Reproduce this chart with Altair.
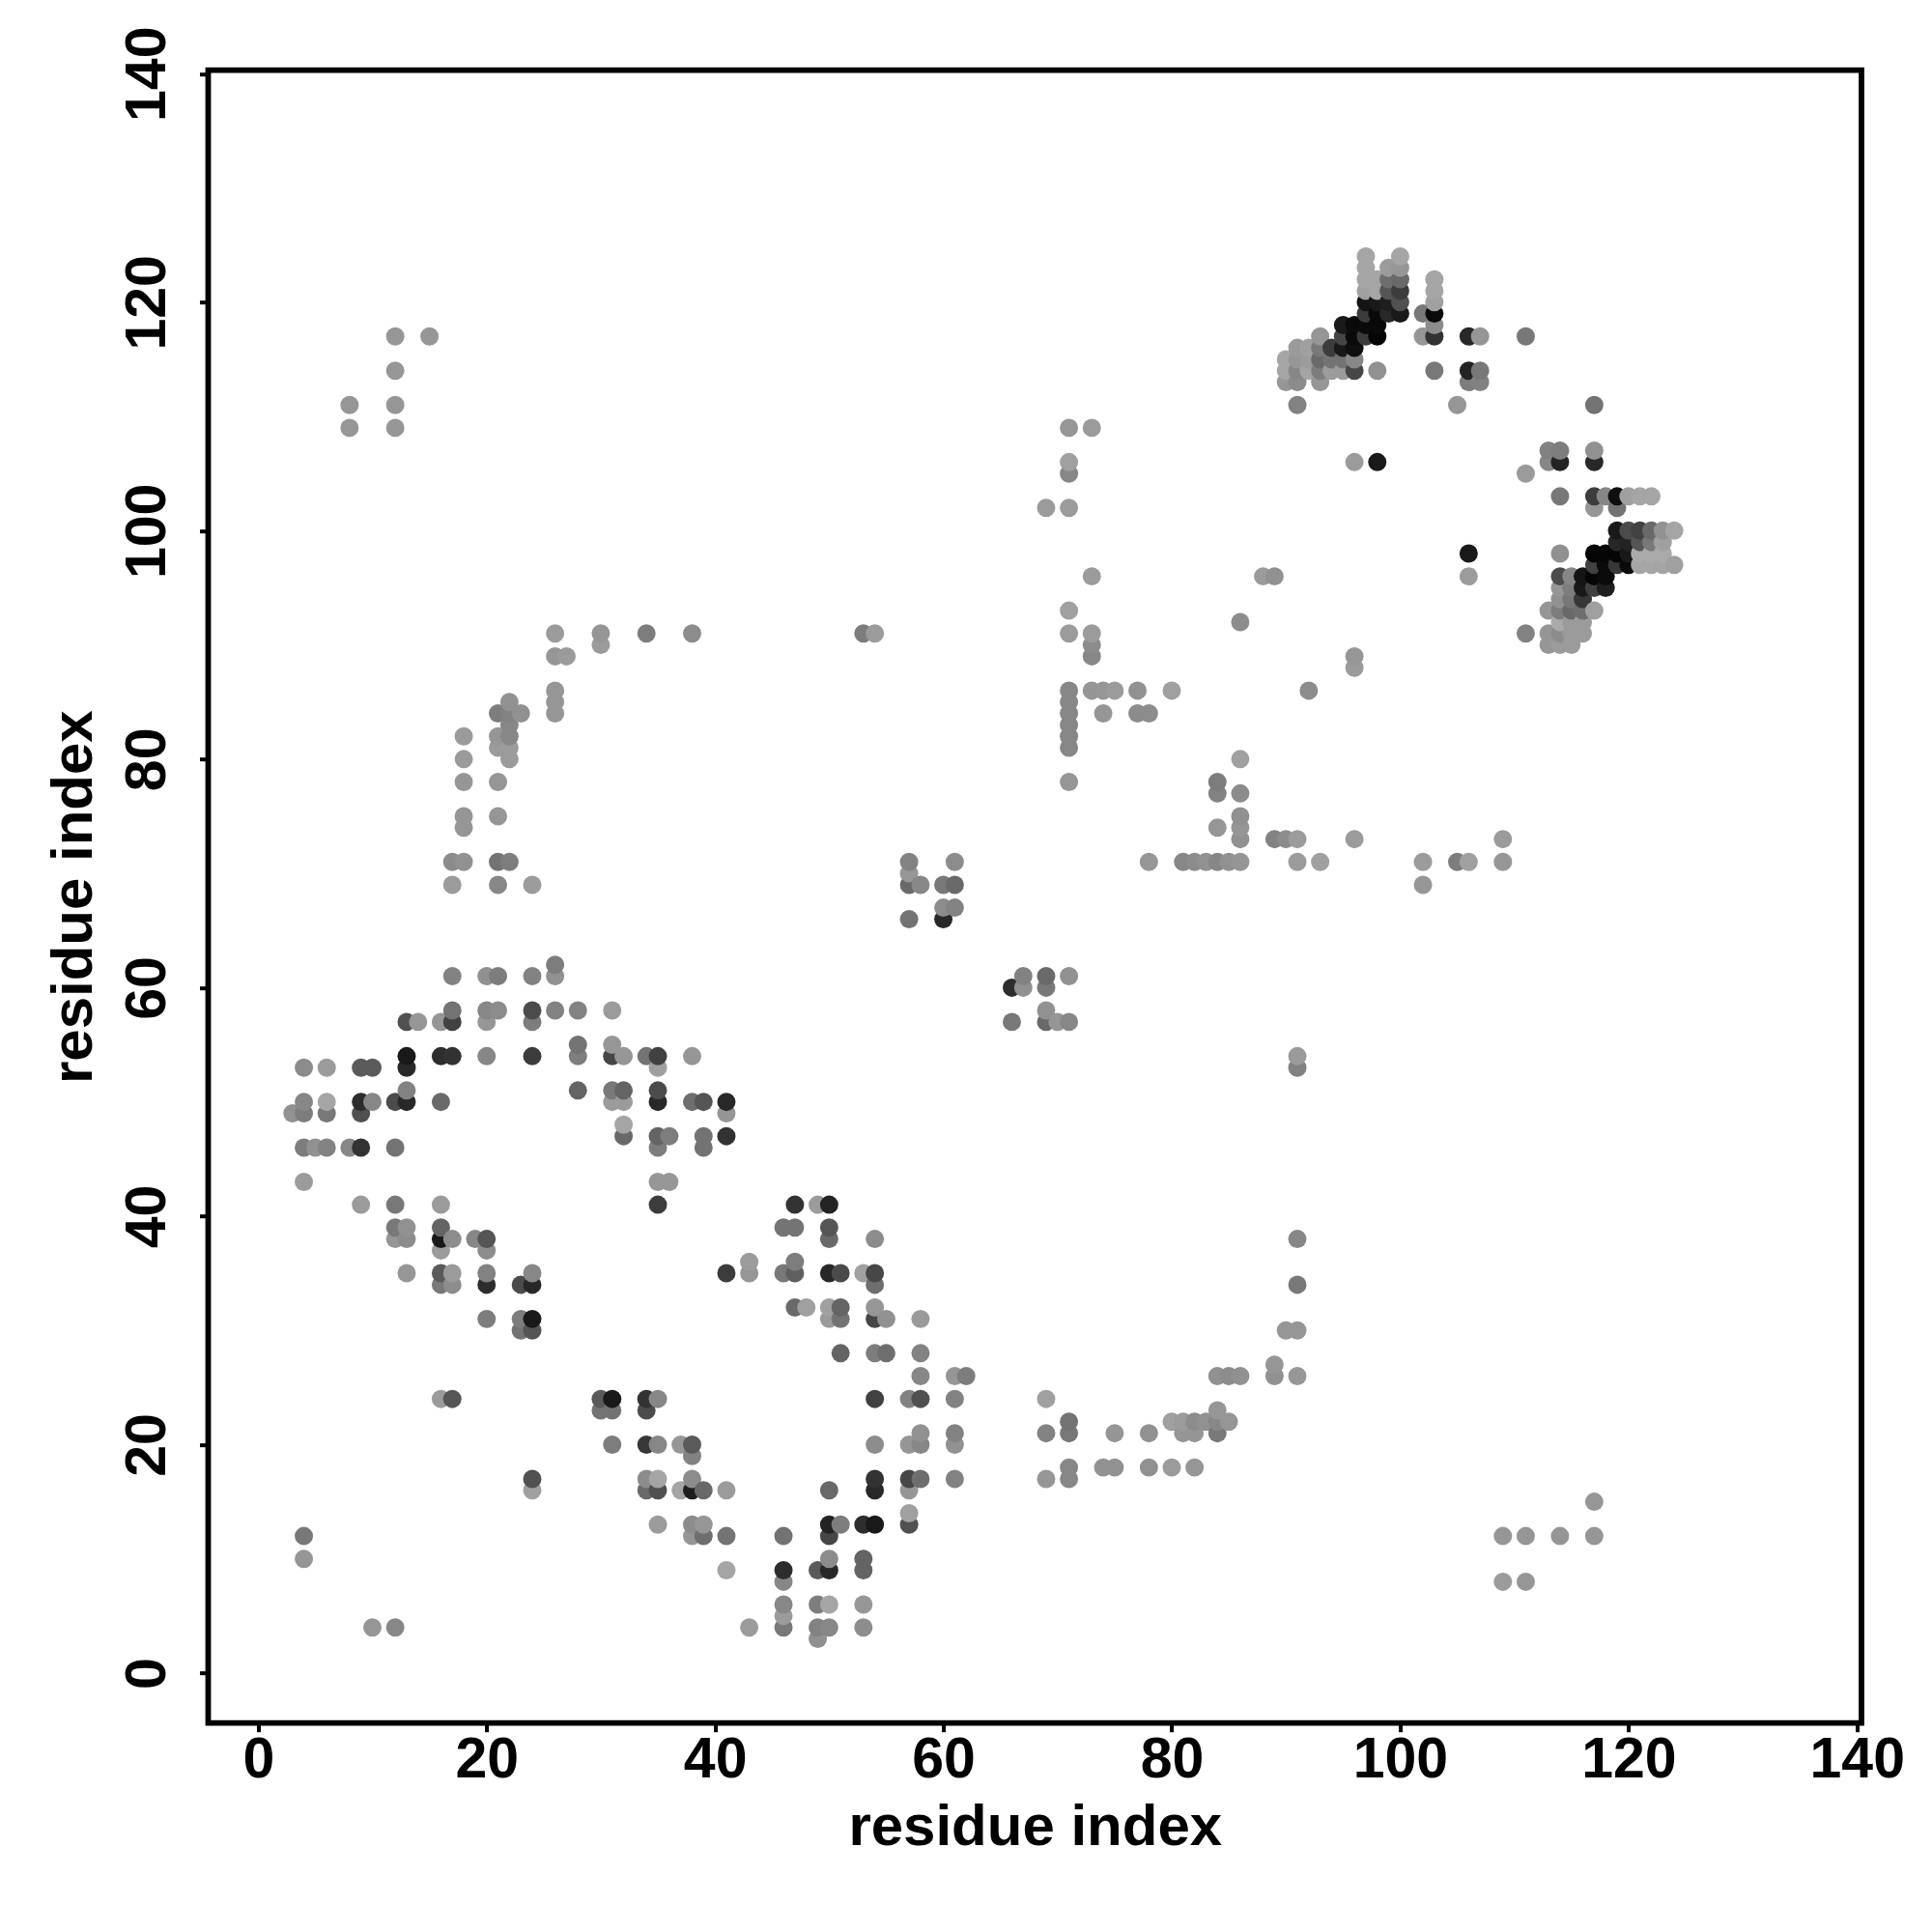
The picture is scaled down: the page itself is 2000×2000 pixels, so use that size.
import altair as alt
import pandas as pd

row_y = [124,123,122,121,120,119,118,117,116,115,114,113,111,109,107,106,105,103,102,100,
         99,98,97,96,95,94,93,92,91,90,89,88,86,85,84,83,82,81,80,78,
         77,75,74,73,71,70,69,67,66,62,61,60,58,57,55,54,53,51,50,49,
         48,47,46,43,41,39,38,37,36,35,34,32,31,30,28,27,26,24,23,22,
         21,20,19,18,17,16,15,14,13,12,10,9,8,6,5,4,3]

row_x = [
 [97,100],
 [97,99,100],
 [97,98,99,100,103],
 [97,98,99,100,103],
 [97,98,99,100,103],
 [97,98,99,100,102,103],
 [95,96,97,98,103],
 [12,15,93,95,96,97,98,102,103,106,107,111],
 [91,92,93,94,95,96],
 [90,91,92,93,94,95,96],
 [12,90,91,92,93,94,95,96,98,103,106,107],
 [90,91,93,106,107],
 [8,12,91,105,117],
 [8,12,71,73],
 [113,114,117],
 [71,96,98,113,114,117],
 [71,111],
 [114,117,118,119,120,121,122],
 [69,71,117,119],
 [119,120,121,122,123,124],
 [119,120,121,122,123],
 [106,114,117,118,119,120,121,122,123],
 [117,118,119,120,121,122,123,124],
 [73,88,89,106,114,115,116,117,118],
 [114,115,116,117,118],
 [114,115,116],
 [71,113,114,115,116,117],
 [86,114,115,116],
 [26,30,34,38,53,54,71,73,111,113,114,115,116],
 [30,73,113,114,115],
 [26,27,73,96],
 [96],
 [26,71,73,74,75,77,80,92],
 [22,26,71],
 [21,22,23,26,71,74,77,78],
 [22,71],
 [18,21,22,71],
 [21,22,71],
 [18,22,86],
 [18,21,71,84],
 [84,86],
 [18,21,86],
 [18,84,86],
 [86,89,90,91,96,109],
 [17,18,21,22,57,61,78,81,82,83,84,85,86,91,93,102,105,106,109],
 [57],
 [17,21,24,57,58,60,61,102],
 [60,61],
 [57,60],
 [26],
 [17,20,21,24,26,67,69,71],
 [66,67,69],
 [17,20,21,24,26,28,31,69],
 [13,14,16,17,20,24,66,69,70,71],
 [28,31],
 [13,16,17,20,24,28,31,32,34,35,38,91],
 [4,6,9,10,13,35,91],
 [13,28,31,32,35],
 [4,6,9,10,12,13,16,31,32,35,38,39,41],
 [3,4,6,9,41],
 [32],
 [32,35,36,39,41],
 [4,5,6,8,9,12,35,39],
 [4,35,36],
 [9,12,16,35,47,49,50],
 [12,13,16,46,47,50],
 [12,13,16,17,19,20,50,54,91],
 [16,20],
 [43,47],
 [13,16,17,20,24,41,43,46,47,50,51,53,54],
 [16,17,20,23,24,54,91],
 [47,48,50,51,54],
 [20,23,24,50,51,54,55,58],
 [23,24,90,91],
 [51,54,55,58],
 [89],
 [58,61,62,84,85,86,89,91],
 [16,17,30,31,34,35,54,57,58,61,69],
 [30,31,34,84],
 [71,80,81,82,83,84,85],
 [58,61,69,71,75,78,81,82,84],
 [31,34,35,37,38,54,57,58,61],
 [38],
 [71,74,75,78,80,82],
 [24,34,35,38,54,57,58,61,69,71],
 [24,34,35,37,38,39,41,50,54,57],
 [117],
 [57],
 [35,38,39,50,51,53,54,57],
 [4,38,39,41,46,50,109,111,114,117],
 [4,50,53],
 [41,46,49,50,53],
 [46,109,111],
 [46,49,50,53],
 [46],
 [10,12,43,46,49,50,53],
 [49],
]

row_shade = [
 [165,165],
 [165,155,150],
 [165,165,110,105,165],
 [160,165,85,60,165],
 [20,25,30,80,160],
 [60,10,40,25,120,10],
 [25,10,10,10,140],
 [150,150,150,70,10,60,5,150,50,40,150,120],
 [155,160,120,60,25,15],
 [165,150,155,105,115,115,135],
 [150,165,135,165,125,155,155,70,145,120,35,120],
 [150,140,150,125,130],
 [150,150,130,150,115],
 [150,150,150,155],
 [130,125,145],
 [160,155,25,135,35,40],
 [135,155],
 [120,60,135,15,160,165,165],
 [155,155,150,115],
 [25,75,65,105,145,165],
 [40,35,85,120,160],
 [25,145,5,5,5,25,170,170,170],
 [65,10,55,10,165,165,165,160],
 [155,155,145,155,75,135,20,5,10],
 [150,125,25,65,30],
 [145,120,55],
 [160,150,125,105,110,160],
 [140,170,155,155],
 [155,150,125,140,125,155,155,155,130,150,140,155,155],
 [155,140,150,155,155],
 [150,155,135,150],
 [155],
 [150,135,150,150,155,145,160,140],
 [145,150,135],
 [125,130,145,150,135,150,140,140],
 [135,135],
 [155,150,135,135],
 [155,155,135],
 [155,155,160],
 [150,150,150,125],
 [130,140],
 [150,150,145],
 [150,150,150],
 [145,130,140,155,155,155],
 [140,145,115,125,130,140,150,135,140,145,135,145,150,155,160,155,125,160,150],
 [150],
 [155,135,155,105,135,120,105,150],
 [140,130],
 [115,40],
 [125],
 [130,145,125,130,145,130,105,145],
 [45,145,120],
 [115,135,140,75,130,130,155,145],
 [80,150,150,65,150,125,120,105,150,135],
 [115,150],
 [25,45,50,135,60,125,70,150,115,65,150,155],
 [140,155,90,90,40,160,130],
 [130,100,120,100,75],
 [135,165,45,135,75,40,105,155,155,40,110,85,40],
 [145,125,120,80,150],
 [165],
 [105,100,125,115,50],
 [125,145,130,135,50,115,125,115],
 [155,150,150],
 [155,120,155,60,50,155,35],
 [120,145,100,115,115,85],
 [150,140,25,140,135,85,105,140,135],
 [155,140],
 [155,125],
 [150,90,155,130,135,60,150,120,95,40,75,160,70],
 [120,140,45,75,40,110,120],
 [105,160,160,100,150],
 [125,125,25,155,115,70,145,155],
 [115,85,150,150],
 [100,125,110,130],
 [150],
 [135,150,125,145,140,145,145,150],
 [155,85,90,25,50,135,65,130,80,130,160],
 [115,115,75,150],
 [115,160,155,140,145,135,150],
 [145,130,130,120,150,145,150,150,120],
 [125,55,135,150,90,140,150,135,145],
 [130],
 [135,145,145,145,155,150],
 [80,140,165,140,50,70,110,130,150,135],
 [160,105,80,165,30,105,155,105,40,150],
 [150],
 [160],
 [155,140,150,35,125,45,25,80],
 [120,150,110,115,115,70,150,150,150,150],
 [150,140,100],
 [165,45,90,40,100],
 [135,155,150],
 [135,125,165,150],
 [155],
 [150,135,155,120,130,135,140],
 [145],
]

xs, ys, shades = [], [], []
for y, xrow, srow in zip(row_y, row_x, row_shade, strict=True):
    for x, s in zip(xrow, srow, strict=True):
        xs.append(x)
        ys.append(y)
        shades.append(s)

df = pd.DataFrame({"x": xs, "y": ys, "shade": shades}).sort_values(["x", "y"])

FONT = "Liberation Sans"
ticks = [0, 20, 40, 60, 80, 100, 120, 140]

x_axis = alt.Axis(values=ticks, title="residue index", domain=False, grid=False,
                  tickSize=9, tickWidth=4, tickColor="black",
                  labelFont=FONT, labelFontWeight="bold", labelFontSize=59, labelColor="black",
                  labelPadding=0, labelFlush=False, labelOverlap=False,
                  titleFont=FONT, titleFontWeight="bold", titleFontSize=60, titleColor="black",
                  titlePadding=11)
y_axis = alt.Axis(values=ticks, title="residue index", domain=False, grid=False,
                  tickSize=9, tickWidth=4, tickColor="black",
                  labelFont=FONT, labelFontWeight="bold", labelFontSize=59, labelColor="black",
                  labelAngle=270, labelPadding=24, labelFlush=False, labelOverlap=False,
                  titleFont=FONT, titleFontWeight="bold", titleFontSize=60, titleColor="black",
                  titlePadding=16)

chart = (
    alt.Chart(df)
    .mark_circle(size=360, opacity=1)
    .encode(
        x=alt.X("x:Q", scale=alt.Scale(domain=[-4.38, 140.4], nice=False, zero=False), axis=x_axis),
        y=alt.Y("y:Q", scale=alt.Scale(domain=[-4.37, 140.3], nice=False, zero=False), axis=y_axis),
        color=alt.Color("shade:Q", scale=alt.Scale(domain=[0, 255], range=["#000000", "#ffffff"], interpolate="rgb"), legend=None),
        order=alt.Order("index:Q"),
    )
    .transform_window(index="row_number()")
    .properties(
        width=1711.5,
        height=1711,
        background="white",
        autosize=alt.AutoSizeParams(type="none"),
        padding={"left": 207.5, "top": 64.7, "right": 60, "bottom": 190},
    )
    .configure_view(stroke="black", strokeWidth=5.8)
)

chart.save("out.html", embed_options={"renderer": "svg", "actions": False})
